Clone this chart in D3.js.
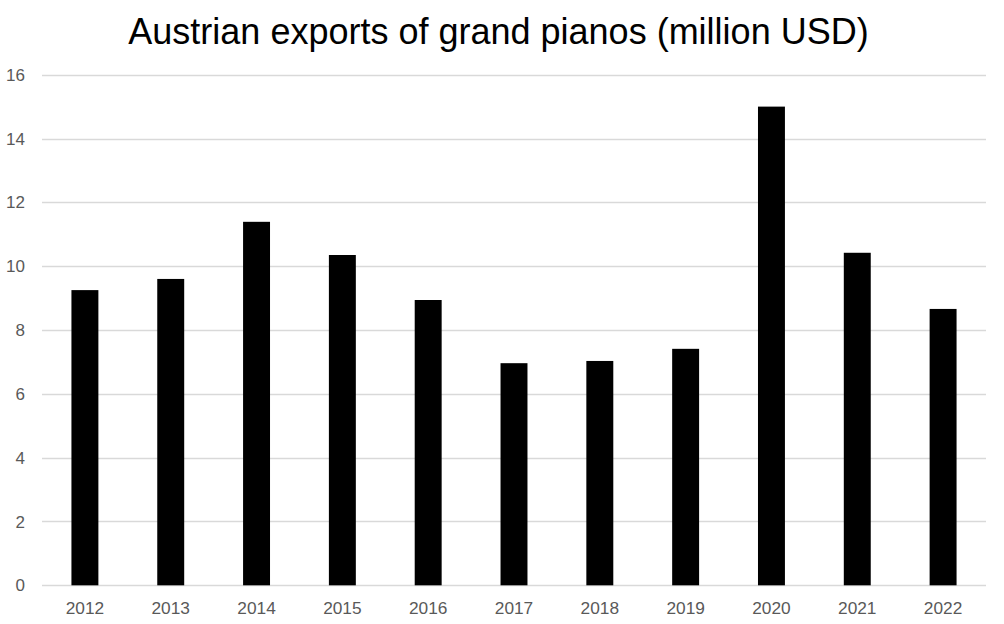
<!DOCTYPE html>
<html><head><meta charset="utf-8">
<script src="https://cdn.jsdelivr.net/npm/d3@7"></script>
<style>body{margin:0;background:#fff}svg{display:block}text{font-family:"Liberation Sans",Arial,sans-serif}</style>
</head><body><svg id="c" width="1004" height="624"></svg>
<script>
const years = ["2012","2013","2014","2015","2016","2017","2018","2019","2020","2021","2022"];
const values = [9.25, 9.6, 11.39, 10.35, 8.94, 6.96, 7.03, 7.41, 15.0, 10.42, 8.66];
const yTicks = [0,2,4,6,8,10,12,14,16];
const title = "Austrian exports of grand pianos (million USD)";

const svg = d3.select("#c");
const x = d3.scaleBand().domain(years).range([42,986]).paddingInner(0.686).paddingOuter(0.343);
const y = d3.scaleLinear().domain([0,16]).range([585.3,74.7]);

svg.append("g").selectAll("line").data(yTicks).join("line")
  .attr("x1",42).attr("x2",986).attr("y1",d=>Math.round(y(d))+0.5).attr("y2",d=>Math.round(y(d))+0.5)
  .attr("stroke","#d9d9d9").attr("stroke-width",1.5);

svg.append("g").selectAll("rect").data(values).join("rect")
  .attr("x",(d,i)=>x(years[i])).attr("width",x.bandwidth())
  .attr("y",d=>y(d)).attr("height",d=>y(0)-y(d)).attr("fill","#000");

svg.append("g").selectAll("text").data(yTicks).join("text")
  .attr("x",25).attr("y",d=>y(d)).attr("dy","0.36em").attr("text-anchor","end")
  .attr("font-size",17).attr("fill","#595959").text(d=>d);

svg.append("g").selectAll("text").data(years).join("text")
  .attr("x",d=>x(d)+x.bandwidth()/2).attr("y",614).attr("text-anchor","middle")
  .attr("font-size",17.3).attr("fill","#595959").text(d=>d);

svg.append("text").attr("x",498.5).attr("y",44).attr("text-anchor","middle")
  .attr("font-size",36).attr("fill","#000").text(title);
</script></body></html>
